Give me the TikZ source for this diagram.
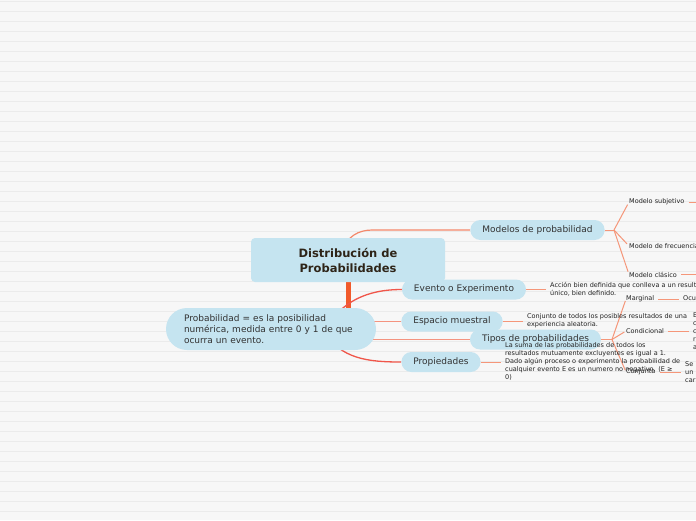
\documentclass[tikz,border=0pt]{standalone}
\usepackage{fontspec}
\setmainfont{DejaVu Sans}
\usetikzlibrary{positioning}

\definecolor{paper}{HTML}{F7F7F7}
\definecolor{rulecol}{HTML}{EBEBEB}
\definecolor{topicfill}{HTML}{C5E4F0}
\definecolor{topictext}{HTML}{333333}
\definecolor{roottext}{HTML}{2E2418}
\definecolor{notetext}{HTML}{222222}
\definecolor{trunkcol}{HTML}{F15A2B}
\definecolor{branchcol}{HTML}{F0564A}
\definecolor{softcol}{HTML}{F4937F}
\definecolor{modeloscol}{HTML}{F4886A}
\definecolor{twigcol}{HTML}{F59679}

\pgfdeclarelayer{paperlayer}
\pgfdeclarelayer{links}
\pgfsetlayers{paperlayer,links,main}

\begin{document}
\begin{tikzpicture}[x=1pt,y=-1pt,
  root/.style={rectangle, rounded corners=4pt, fill=topicfill, text=roottext,
    font=\bfseries\fontsize{11.5}{15}\selectfont, minimum width=194pt,
    minimum height=44pt, align=center, inner sep=0pt},
  topic/.style={rectangle, rounded corners=10pt, fill=topicfill, text=topictext,
    font=\fontsize{9}{11}\selectfont, minimum height=20pt, inner xsep=12pt, inner ysep=0pt},
  note/.style={anchor=west, inner sep=0pt, align=left, text=notetext,
    font=\fontsize{6.5}{8}\selectfont},
  trunk/.style={line width=5pt, draw=trunkcol},
  branch/.style={line width=1.3pt, draw=branchcol},
  soft/.style={line width=1.2pt, draw=softcol},
  twig/.style={line width=1pt, draw=twigcol}]
  \useasboundingbox (0,0) rectangle (696,520);
  \clip (0,0) rectangle (696,520);

  \begin{pgfonlayer}{paperlayer}
    \fill[paper] (0,0) rectangle (696,520);
    \foreach \y in {1.5,11.5,...,511.5}
      \draw[rulecol, line width=0.7pt] (0,\y) -- (696,\y);
  \end{pgfonlayer}

  \node[root] (root) at (348,260) {Distribución de\\Probabilidades};

  \node[topic] (modelos) at (537.5,230) {Modelos de probabilidad};
  \node[topic] (evento) at (464,289.5) {Evento o Experimento};
  \node[topic] (espacio) at (452,321.5) {Espacio muestral};
  \node[topic] (tipos) at (535.5,339.5) {Tipos de probabilidades};
  \node[topic] (propiedades) at (441,362) {Propiedades};
  \node[topic, rounded corners=21pt, minimum height=42pt, align=left,
    inner xsep=18pt, text width=174pt] (probabilidad) at (271,329)
    {Probabilidad = es la posibilidad\\numérica, medida entre 0 y 1 de que\\ocurra un evento.};

  \node[note] (subjetivo) at (629,202) {Modelo subjetivo};
  \node[note] (frecuencia) at (629,246) {Modelo de frecuencia};
  \node[note] (clasico) at (629,274.5) {Modelo clásico};

  \node[note] (eventoNota) at (550,289.5)
    {Acción bien definida que conlleva a un result\\único, bien definido.};
  \node[note] (espacioNota) at (527,321)
    {Conjunto de todos los posibles resultados de una\\experiencia aleatoria.};

  \node[note] (marginal) at (626,299) {Marginal};
  \node[note] (condicional) at (626,331) {Condicional};
  \node[note] (conjunta) at (626,372) {Conjunta};
  \node[note] (marginalNota) at (683,298.5) {Ocu};
  \node[note] (condicionalNota) at (693,331) {E\\c\\c\\r\\a};
  \node[note] (conjuntaNota) at (685,372) {Se\\un\\car};

  \node[note] (propiedadesNota) at (505,361.5)
    {La suma de las probabilidades de todos los\\resultados mutuamente excluyentes es igual a 1.\\Dado algún proceso o experimento la probabilidad de\\cualquier evento E es un numero no negativo. (E ≥\\0)};

  \begin{pgfonlayer}{links}
    \coordinate (hub) at (324,331);
    \coordinate (trunkFoot) at (348,336);
    \coordinate (modelosFoot) at (344,250);
    \coordinate (modelosBend) at (372,230);
    \coordinate (modelosFork) at (614,230);
    \coordinate (tiposFork) at (612,339.5);
    \coordinate (edgeR) at (696,0);

    \draw[trunk] (root.south) -- (trunkFoot);
    \draw[soft, draw=modeloscol] (modelosFoot) to[out=80,in=180] (modelosBend) -- (modelos.west);
    \draw[branch] (hub) to[out=60,in=180] (evento.west);
    \draw[soft] (hub |- espacio) -- (espacio.west);
    \draw[soft] (hub |- tipos) -- (tipos.west);
    \draw[branch] (hub) to[out=-60,in=180] (propiedades.west);

    \draw[twig] (modelos.east) -- (modelosFork);
    \foreach \leaf in {subjetivo,frecuencia,clasico}
      \draw[twig, shorten >=3pt] (modelosFork) -- (\leaf.west);
    \draw[twig] ([xshift=4pt]subjetivo.east) -- (subjetivo.east -| edgeR);
    \draw[twig] ([xshift=4pt]clasico.east) -- (clasico.east -| edgeR);

    \draw[twig, shorten >=4pt] (evento.east) -- (evento.east -| eventoNota.west);
    \draw[twig, shorten >=4pt] (espacio.east) -- (espacio.east -| espacioNota.west);
    \draw[twig, shorten >=4pt] (propiedades.east) -- (propiedades.east -| propiedadesNota.west);

    \draw[twig] (tipos.east) -- (tiposFork);
    \foreach \leaf in {marginal,condicional,conjunta}
      \draw[twig, shorten >=2pt] (tiposFork) -- (\leaf.west);
    \draw[twig, shorten <=4pt, shorten >=4pt] (marginal.east) -- (marginal.east -| marginalNota.west);
    \draw[twig, shorten <=4pt, shorten >=4pt] (condicional.east) -- (condicional.east -| condicionalNota.west);
    \draw[twig, shorten <=4pt, shorten >=4pt] (conjunta.east) -- (conjunta.east -| conjuntaNota.west);
  \end{pgfonlayer}
\end{tikzpicture}
\end{document}
